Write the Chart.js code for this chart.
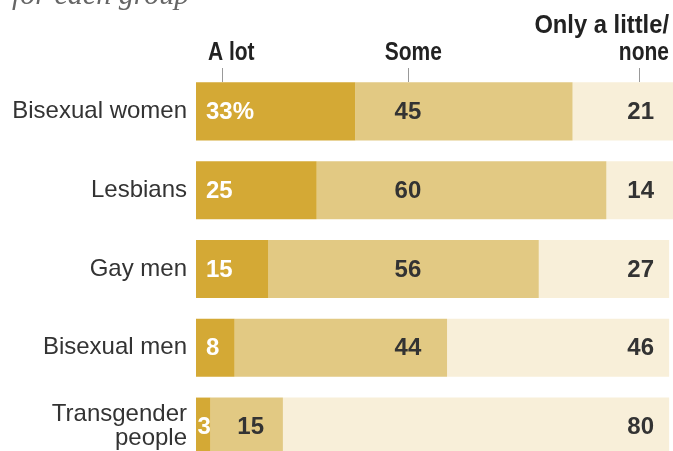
<!DOCTYPE html>
<html>
<head>
<meta charset="utf-8">
<script src="https://cdn.jsdelivr.net/npm/chart.js@4"></script>
<style>
  body { margin:0; background:#fff; overflow:hidden; }
</style>
</head>
<body>
<canvas id="myChart" width="673" height="487"></canvas>
<script>
var groups = ['Bisexual women', 'Lesbians', 'Gay men', 'Bisexual men', ['Transgender', 'people']];
var aLot = [33, 25, 15, 8, 3];
var some = [45, 60, 56, 44, 15];
var little = [21, 14, 27, 46, 80];//Only a little/none
var headers = ['A lot', 'Some', ['Only a little/', 'none']];
var subtitle = 'for each group';

var colors = ['#d4a935', '#e2c983', '#f8efd9'];

// narrow bold text (no narrow font installed, so squeeze it)
function narrowText(ctx, txt, x, y, align, sx) {
    sx = sx || 0.84;
    var w = ctx.measureText(txt).width * sx;
    var left = align == 'center' ? x - w / 2 : (align == 'right' ? x - w : x);
    ctx.save();
    ctx.translate(left, y);
    ctx.scale(sx, 1);
    ctx.textAlign = 'left';
    ctx.fillText(txt, 0, 0);
    ctx.restore();
}

// texts drawn over the bars and header row
var labelPlugin = {
    id: 'labels',
    afterDatasetsDraw: function(chart) {
        var ctx = chart.ctx;
        var xs = chart.scales.x;
        var area = chart.chartArea;
        ctx.save();

        // cut off subtitle at the very top
        ctx.fillStyle = '#666';
        ctx.font = 'italic 30px "Liberation Serif"';
        ctx.textAlign = 'left';
        ctx.textBaseline = 'alphabetic';
        ctx.fillText(subtitle, 12, 4);

        // header row + little ticks
        ctx.fillStyle = '#222';
        ctx.font = 'bold 25px "Liberation Sans"';
        narrowText(ctx, headers[0], xs.getPixelForValue(7.3), 60, 'center');
        narrowText(ctx, headers[1], xs.getPixelForValue(45.0), 60, 'center');
        narrowText(ctx, headers[2][0], 669, 33, 'right', 0.95);
        narrowText(ctx, headers[2][1], 669, 60, 'right');

        ctx.strokeStyle = '#999';
        ctx.lineWidth = 1;
        [5.4, 43.9, 91.7].forEach(function(v) {
            var px = Math.round(xs.getPixelForValue(v)) + 0.5;
            ctx.beginPath();
            ctx.moveTo(px, 68);
            ctx.lineTo(px, area.top + 10);
            ctx.stroke();
        });

        ctx.font = 'bold 24px "Liberation Sans"';
        ctx.textBaseline = 'middle';

        // A lot
        var m0 = chart.getDatasetMeta(0);
        m0.data.forEach(function(bar, i) {
            var txt = i == 0 ? aLot[i] + '%' : String(aLot[i]);
            ctx.fillStyle = '#fff';
            if (bar.x - bar.base < 30) {
                ctx.textAlign = 'center';
                ctx.fillText(txt, (bar.x + bar.base) / 2 + 1, bar.y + 1);
            } else {
                ctx.textAlign = 'left';
                ctx.fillText(txt, bar.base + 10, bar.y + 1);
            }
        });

        // Some
        var m1 = chart.getDatasetMeta(1);
        var col = xs.getPixelForValue(43.9);
        m1.data.forEach(function(bar, i) {
            ctx.fillStyle = '#333';
            ctx.textAlign = 'center';
            var cx = col;
            if (col < bar.base + 20 || col > bar.x - 20) cx = (bar.x + bar.base) / 2 + 4;
            ctx.fillText(String(some[i]), cx, bar.y + 1);
        });

        // Only a little / none
        var m2 = chart.getDatasetMeta(2);
        m2.data.forEach(function(bar, i) {
            ctx.fillStyle = '#333';
            ctx.textAlign = 'right';
            ctx.fillText(String(little[i]), area.right - 19, bar.y + 1);
        });
        ctx.restore();
    }
};

var ctx = document.getElementById('myChart').getContext('2d');
var myChart = new Chart(ctx, {
    type: 'bar',
    data: {
        labels: groups,
        datasets: [
            { label: 'A lot', data: aLot, backgroundColor: colors[0] },
            { label: 'Some', data: some, backgroundColor: colors[1] },
            { label: 'Only a little/none', data: little, backgroundColor: colors[2] }
        ]
    },
    options: {
        indexAxis: 'y',
        responsive: false,
        animation: false,
        layout: { padding: { top: 72, bottom: 0, left: 0, right: 0 } },
        datasets: {
            bar: { categoryPercentage: 1, barPercentage: 0.737, borderWidth: 0 }
        },
        plugins: {
            legend: { display: false },
            tooltip: { enabled: false }
        },
        scales: {
            x: {
                stacked: true,
                display: false,
                min: 0,
                max: 98.8
            },
            y: {
                stacked: true,
                grid: { display: false, drawTicks: false },
                border: { display: false },
                afterFit: function(scale) { scale.width = 196; },
                ticks: {
                    padding: 9,
                    color: '#333',
                    font: { family: '"Liberation Sans"', size: 24, lineHeight: 1.0 }
                }
            }
        }
    },
    plugins: [labelPlugin]
});
</script>
</body>
</html>
